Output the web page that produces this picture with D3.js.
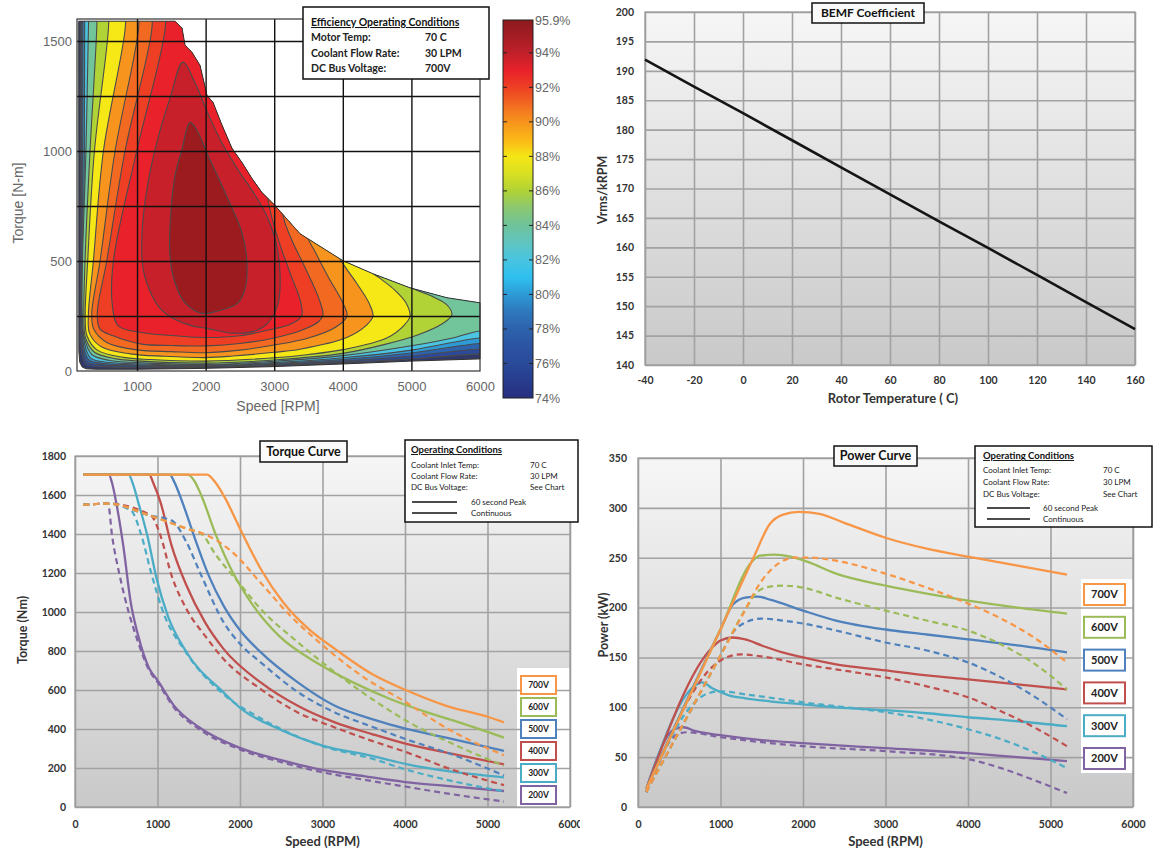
<!DOCTYPE html>
<html>
<head>
<meta charset="utf-8">
<title>motor performance charts</title>
<style>
  body { margin: 0; background: #fff; }
  svg { display: block; }
</style>
</head>
<body>
<svg id="chart" width="1157" height="852"></svg>
<script src="https://cdn.jsdelivr.net/npm/d3@7"></script>
<script>

// ---------- efficiency map: regions where efficiency >= level, [speed rpm, torque Nm] ----------
// (points above 1600 Nm or beyond 6000 rpm lie outside the plot and only close the shapes)
var effEnvelope = [[150,1590],[1554,1590],[1656,1559],[1700,1481],[1800,1449],[1918,1390],[2020,1253],[2108,1221],
  [2240,1117],[2385,1012],[2530,948],[2676,875],[2822,811],[3011,752],[3376,624],[4003,501],[4440,442],[4980,378],
  [5519,333],[6000,310],[6000,55],[5000,45],[4000,32],[3000,20],[2000,12],[1000,8],[400,8],[260,10],[200,18],[165,40],[152,90]]
var eff76 = [[180,2600],[180,1700],[180,1000],[182,300],[195,80],[260,30],[500,20],[1000,15],[2000,17],[3000,25],[4000,38],[5000,55],[6000,78],[6500,78],[6500,1700],[6500,2600]]
var eff78 = [[195,2600],[195,1700],[195,1000],[198,300],[210,100],[280,40],[500,28],[1000,22],[2000,21],[3000,30],[4000,45],[5000,68],[6000,100],[6500,100],[6500,1700],[6500,2600]]
var eff80 = [[212,2600],[212,1700],[210,1000],[210,300],[222,110],[300,50],[500,35],[1000,27],[2000,24],[3000,34],[4000,52],[5000,82],[6000,125],[6500,125],[6500,1700],[6500,2600]]
var eff82 = [[238,2600],[238,1700],[232,1000],[220,400],[232,130],[320,60],[500,42],[1000,32],[2000,27],[3000,38],[4000,60],[5000,95],[6000,150],[6500,150],[6500,1700],[6500,2600]]
var eff84 = [[300,2600],[300,1700],[291,1550],[255,1000],[205,500],[202,250],[232,150],[340,75],[600,48],[1000,38],[2000,30],[3000,44],[4000,70],[5000,115],[5600,150],[6000,182],[6500,182],[6500,1700],[6500,2600]]
var eff86 = [[420,2600],[420,1700],[412,1550],[315,1000],[242,500],[225,250],[250,150],[380,85],[700,55],[1000,46],[2000,36],[3000,50],[4000,80],[4600,120],[5100,165],[5450,215],[5590,255],[5520,300],[5300,340],[5000,380],[4900,420],[4800,1700],[4800,2600]]
var eff88 = [[590,2600],[590,1700],[582,1550],[379,1000],[281,500],[245,250],[270,160],[420,95],[800,62],[1200,52],[2000,45],[3000,60],[3500,75],[4000,97],[4640,150],[4900,210],[4980,250],[4920,310],[4750,370],[4550,420],[4400,460],[4300,1700],[4300,2600]]
var eff90 = [[840,2600],[840,1700],[825,1550],[510,1000],[364,500],[290,250],[310,170],[480,110],[900,78],[1400,67],[2000,61],[2400,68],[3000,85],[3376,99],[4057,152],[4350,210],[4440,250],[4380,310],[4200,400],[4020,480],[3950,520],[3900,1700],[3900,2600]]
var eff91 = [[1030,2600],[1030,1700],[1020,1550],[680,1000],[461,500],[340,260],[370,190],[560,130],[1000,96],[1500,88],[2000,83],[2500,95],[3000,118],[3500,150],[3900,200],[4060,250],[4000,310],[3800,420],[3600,540],[3450,640],[3400,1700],[3400,2600]]
var eff92 = [[1220,2600],[1220,1700],[1214,1550],[825,1000],[558,500],[420,260],[460,190],[650,160],[1068,122],[1500,116],[2035,114],[2500,125],[3000,150],[3400,185],[3650,225],[3710,255],[3650,330],[3450,470],[3250,600],[3120,720],[3100,1700],[3100,2600]]
var eff93 = [[1410,2600],[1410,1700],[1408,1550],[995,1000],[655,500],[640,300],[727,205],[1068,175],[1554,160],[2035,152],[2500,160],[2900,185],[3250,215],[3400,250],[3380,320],[3250,430],[3100,560],[2980,680],[2900,800],[2800,1700],[2800,2600]]
var eff94 = [[1670,1404],[1481,1240],[1290,1040],[1146,830],[1073,629],[1088,465],[1219,342],[1350,280],[1550,235],[1800,205],[2000,195],[2400,172],[2700,180],[2895,214],[3055,305],[3085,442],
  [3030,580],[2900,700],[2720,800],[2472,915],[2240,1035],[2035,1170],[1845,1310]]
var eff95 = [[1773,1130],[1650,1000],[1554,889],[1490,707],[1481,524],[1554,401],[1700,310],[1948,262],[2181,273],[2472,310],[2575,374],[2603,492],[2530,629],[2283,811],[2035,980],[1880,1090]]
var effRegions = [effEnvelope, eff76, eff78, eff80, eff82, eff84, eff86, eff88, eff90, eff91, eff92, eff93, eff94, eff95]
var effLevels = [74, 76, 78, 80, 82, 84, 86, 88, 90, 91, 92, 93, 94, 95]
var effXTicks = [1000, 2000, 3000, 4000, 5000, 6000]
var effYTicks = [0, 500, 1000, 1500]
var effGridX = [1000, 2000, 3000, 4000, 5000]
var effGridY = [250, 500, 750, 1000, 1250, 1500]
var cbTicks = [74, 76, 78, 80, 82, 84, 86, 88, 90, 92, 94, 95.9]
var cbMarks = [76, 78, 80, 82, 84, 86, 88, 90, 92, 94]
var cbStopValues = [74, 75, 76, 77, 78, 79, 80, 81, 82, 83, 84, 85, 86, 87, 88, 89, 90, 91, 92, 93, 94, 95.9]
var effConditions = [['Motor Temp:', '70 C'], ['Coolant Flow Rate:', '30 LPM'], ['DC Bus Voltage:', '700V']]

// ---------- BEMF coefficient ----------
var rotorTemp = [-40, -20, 0, 20, 40, 60, 80, 100, 120, 140, 160]
var bemf = [191.9, 187.3, 182.8, 178.2, 173.6, 169.0, 164.4, 159.9, 155.3, 150.7, 146.1]
var bemfYTicks = [140, 145, 150, 155, 160, 165, 170, 175, 180, 185, 190, 195, 200]

// ---------- torque / power curves ----------
var voltages = ['700V', '600V', '500V', '400V', '300V', '200V']
var speedTicks = [0, 1000, 2000, 3000, 4000, 5000, 6000]
var torqueTicks = [0, 200, 400, 600, 800, 1000, 1200, 1400, 1600, 1800]
var powerTicks = [0, 50, 100, 150, 200, 250, 300, 350]
var opConditions = [['Coolant Inlet Temp:', '70 C'], ['Coolant Flow Rate:', '30 LPM'], ['DC Bus Voltage:', 'See Chart']]
var lineKeys = ['60 second Peak', 'Continuous']

var tqPeak700 = [[100,1705],[1600,1705],[1700,1665],[1800,1599],[2020,1410],[2250,1222],[2520,1051],[2830,913],[3150,811],[3600,682],[4030,596],[4500,519],[5030,459],[5200,434]]
var tqPeak600 = [[100,1705],[1370,1705],[1450,1670],[1530,1599],[1710,1393],[1890,1222],[2160,1033],[2470,879],[2920,742],[3370,639],[3820,554],[4270,485],[4720,425],[5200,356]]
var tqPeak500 = [[100,1705],[1150,1705],[1200,1670],[1300,1565],[1440,1393],[1620,1188],[1800,1033],[2020,896],[2250,794],[2700,639],[3150,519],[3600,451],[4030,399],[4500,356],[5200,288]]
var tqPeak400 = [[100,1705],[900,1705],[950,1660],[1035,1565],[1170,1342],[1350,1137],[1575,948],[1800,811],[2250,639],[2700,519],[3150,434],[3600,374],[4030,322],[4500,279],[5200,219]]
var tqPeak300 = [[100,1705],[650,1705],[700,1660],[765,1565],[876,1393],[990,1170],[1125,980],[1350,795],[1800,588],[2020,502],[2470,400],[3000,315],[3600,262],[4030,219],[4500,185],[5200,152]]
var tqPeak200 = [[100,1705],[410,1705],[450,1660],[500,1560],[585,1340],[675,1050],[765,880],[900,710],[1000,650],[1200,520],[1500,410],[2000,303],[2500,240],[3000,190],[3500,158],[4000,128],[4500,108],[5200,82]]

var tqCont700 = [[100,1550],[400,1556],[900,1496],[1350,1428],[1620,1390],[1900,1310],[2250,1150],[2600,985],[3000,830],[3500,665],[4000,540],[4500,405],[5200,265]]
var tqCont600 = [[100,1550],[400,1556],[900,1496],[1350,1428],[1530,1402],[1710,1291],[1980,1153],[2250,1016],[2700,845],[3150,691],[3600,554],[4050,434],[4500,339],[5200,211]]
var tqCont500 = [[100,1550],[400,1556],[900,1496],[1170,1470],[1350,1359],[1530,1188],[1800,948],[2020,828],[2250,742],[2700,590],[3150,485],[3600,412],[4030,345],[4500,280],[5200,162]]
var tqCont400 = [[100,1550],[400,1556],[920,1495],[1035,1393],[1170,1188],[1350,1016],[1575,879],[1800,759],[2250,605],[2700,485],[3150,408],[3600,339],[4030,279],[4500,202],[5200,112]]
var tqCont300 = [[100,1550],[400,1556],[680,1520],[800,1400],[930,1190],[1060,1010],[1350,790],[1800,578],[2250,455],[3000,312],[3600,248],[4030,190],[4500,140],[5200,80]]
var tqCont200 = [[100,1550],[400,1556],[450,1390],[540,1190],[650,1000],[765,845],[900,700],[1000,640],[1200,510],[1500,400],[2000,295],[2500,230],[3000,178],[3500,140],[4000,105],[4500,70],[5200,28]]

var pwPeak700 = [[100,18],[500,89],[1000,178],[1400,250],[1600,284],[1750,293],[1950,296],[2200,294],[2500,285],[3000,270],[3500,259],[4000,251],[4600,242],[5200,233]]
var pwPeak600 = [[100,18],[1000,178],[1380,246],[1480,252],[1650,253],[1850,251],[2050,246],[2400,234],[3000,222],[3500,214],[4000,207],[4600,200],[5200,194]]
var pwPeak500 = [[100,18],[1000,178],[1150,203],[1300,210],[1450,211],[1600,208],[2000,197],[2400,187],[3000,178],[3500,173],[4000,168],[4600,162],[5200,155]]
var pwPeak400 = [[100,18],[900,160],[1000,167],[1150,170],[1300,168],[1500,162],[1750,155],[2000,150],[2400,143],[3000,137],[3500,132],[4000,128],[4600,123],[5200,118]]
var pwPeak300 = [[100,18],[680,121],[780,125],[900,119],[1100,112],[1300,109],[1600,106],[2000,103],[2400,100],[3000,97],[3500,94],[4000,90],[4600,86],[5200,81]]
var pwPeak200 = [[100,18],[440,78],[550,80],[700,76],[1000,72],[1500,67],[2000,64],[3000,59],[4000,54],[4600,50],[5200,46]]

var pwCont700 = [[100,15],[500,76],[1000,152],[1250,190],[1500,227],[1700,244],[1900,250],[2100,250],[2400,247],[3000,234],[3500,220],[4000,204],[4400,189],[4800,170],[5200,145]]
var pwCont600 = [[100,15],[1000,152],[1300,198],[1450,216],[1600,221],[1750,222],[2000,220],[2400,210],[3000,197],[3500,187],[4000,177],[4400,163],[4800,144],[5200,118]]
var pwCont500 = [[100,15],[1000,152],[1150,175],[1300,185],[1500,189],[1750,187],[2000,184],[2400,177],[3000,165],[3500,157],[4000,145],[4400,130],[4800,111],[5200,88]]
var pwCont400 = [[100,15],[950,144],[1100,151],[1250,153],[1500,151],[2000,143],[2400,138],[3000,130],[3500,121],[4000,110],[4400,96],[4800,80],[5200,61]]
var pwCont300 = [[100,15],[700,106],[850,114],[1000,116],[1300,113],[2000,105],[3000,95],[3500,88],[4000,78],[4400,68],[4800,55],[5200,39]]
var pwCont200 = [[100,15],[480,73],[600,75],[1000,70],[1500,65],[2000,61],[3000,56],[4000,48],[4400,39],[4800,27],[5200,14]]

var torquePeak = [tqPeak700, tqPeak600, tqPeak500, tqPeak400, tqPeak300, tqPeak200]
var torqueCont = [tqCont700, tqCont600, tqCont500, tqCont400, tqCont300, tqCont200]
var powerPeak = [pwPeak700, pwPeak600, pwPeak500, pwPeak400, pwPeak300, pwPeak200]
var powerCont = [pwCont700, pwCont600, pwCont500, pwCont400, pwCont300, pwCont200]

// ---------- styles ----------
var bandColors = ['#30386a', '#2b4a9b', '#2e63ad', '#2e9bd7', '#4ac4e0', '#72c59b', '#b2d335', '#f6e817',
  '#f7941d', '#f26a21', '#ee3f24', '#e8212a', '#c7202a', '#9b1b1f']
var cbStopColors = ['#262f7f', '#283c8e', '#2a4a9a', '#2c54a2', '#2d62ac', '#2e78bd', '#2d9ad6', '#2ec0f0',
  '#48c4e0', '#60c5c0', '#6fc39b', '#8ac872', '#b0d235', '#d9e022', '#f5e616', '#fbb616', '#f7941d',
  '#f26a21', '#ee3f24', '#e8212a', '#c0202a', '#8b1a1e']
var voltColors = ['#f79646', '#9bbb59', '#4f81bd', '#c0504d', '#4bacc6', '#8064a2']
var excelFont = 'Lato, "Open Sans", sans-serif'
var helvFont = '"Liberation Sans", Arial, sans-serif'

var svg = d3.select('#chart')
var defs = svg.append('defs')

var bg = defs.append('linearGradient').attr('id', 'plotBg')
    .attr('x1', 0).attr('y1', 0).attr('x2', 0).attr('y2', 1)
bg.append('stop').attr('offset', 0).attr('stop-color', '#f6f6f6')
bg.append('stop').attr('offset', 1).attr('stop-color', '#c9c9c9')

// style the tick labels an axis call produced
function styleAxis(a, font, size, weight, color) {
    a.select('.domain').remove()
    a.attr('font-family', null).attr('font-size', null)
    a.selectAll('text')
        .attr('font-family', font).attr('font-size', size)
        .attr('font-weight', weight).attr('fill', color)
    return a
}

function grid(g, x, y, xs, ys, color, width) {
    var x0 = x.range()[0], x1 = x.range()[1]
    var y0 = y.range()[0], y1 = y.range()[1]
    g.append('g').attr('transform', 'translate(0,' + y0 + ')')
        .call(d3.axisBottom(x).tickValues(xs).tickSize(-(y0 - y1)).tickFormat(''))
        .call(function(a){ a.select('.domain').remove() })
        .selectAll('line').attr('stroke', color).attr('stroke-width', width)
    g.append('g').attr('transform', 'translate(' + x0 + ',0)')
        .call(d3.axisLeft(y).tickValues(ys).tickSize(-(x1 - x0)).tickFormat(''))
        .call(function(a){ a.select('.domain').remove() })
        .selectAll('line').attr('stroke', color).attr('stroke-width', width)
}

function titleBox(g, x, y, w, h, label, size) {
    g.append('rect').attr('x', x).attr('y', y).attr('width', w).attr('height', h)
        .attr('fill', '#fafafa').attr('stroke', '#111').attr('stroke-width', 1.5)
    g.append('text').attr('x', x + w / 2).attr('y', y + h / 2).attr('dy', '0.35em')
        .attr('text-anchor', 'middle').attr('font-family', excelFont)
        .attr('font-weight', 700).attr('font-size', size).attr('fill', '#111').text(label)
}

// Operating conditions box
function condBox(g, x, y, w, h, o) {
    g.append('rect').attr('x', x).attr('y', y).attr('width', w).attr('height', h)
        .attr('fill', '#fff').attr('stroke', '#111').attr('stroke-width', 1.5)
    g.append('text').attr('x', x + o.pad).attr('y', y + o.titleY)
        .attr('font-family', excelFont).attr('font-weight', 700).attr('font-size', o.titleSize)
        .attr('text-decoration', 'underline').attr('fill', '#111').text(o.title)
    o.rows.forEach(function(r, i){
        var ty = y + o.rowY + i * o.rowStep
        g.append('text').attr('x', x + o.pad).attr('y', ty)
            .attr('font-family', excelFont).attr('font-weight', o.rowWeight).attr('font-size', o.rowSize)
            .attr('fill', '#222').text(r[0])
        g.append('text').attr('x', x + o.valX).attr('y', ty)
            .attr('font-family', excelFont).attr('font-weight', o.rowWeight).attr('font-size', o.rowSize)
            .attr('fill', '#222').text(r[1])
    })
    if (o.keys) {
        o.keys.forEach(function(k, i){
            var ly = y + o.keyY + i * o.keyStep
            g.append('line').attr('x1', x + o.lineX0).attr('x2', x + o.lineX1)
                .attr('y1', ly).attr('y2', ly).attr('stroke', '#111').attr('stroke-width', 1.4)
            g.append('text').attr('x', x + o.keyTextX).attr('y', ly + 3)
                .attr('font-family', excelFont).attr('font-size', o.rowSize).attr('fill', '#222').text(k)
        })
    }
}

// ================= efficiency map =================
var ex = d3.scaleLinear().domain([125, 6000]).range([77, 480])
var ey = d3.scaleLinear().domain([0, 1600]).range([371, 19])
var effPoly = d3.line().x(function(d){ return ex(d[0]) }).y(function(d){ return ey(d[1]) })
var effSmooth = d3.line().x(function(d){ return ex(d[0]) }).y(function(d){ return ey(d[1]) })
    .curve(d3.curveCatmullRomClosed.alpha(0.5))

defs.append('clipPath').attr('id', 'envClip')
    .append('path').attr('d', effPoly(effEnvelope) + 'Z')

var effG = svg.append('g')
var bands = effG.append('g').attr('clip-path', 'url(#envClip)')
bands.selectAll('path')
    .data(effRegions)
    .enter().append('path')
    .attr('d', function(d, i){ return i === 0 ? effPoly(d) + 'Z' : effSmooth(d) })
    .attr('fill', function(d, i){ return bandColors[i] })
    .attr('stroke', '#4a4a4a')
    .attr('stroke-width', 1.1)
    .attr('data-level', function(d, i){ return effLevels[i] })

effG.append('path').attr('d', effPoly(effEnvelope) + 'Z')
    .attr('fill', 'none').attr('stroke', '#333').attr('stroke-width', 1)

grid(effG, ex, ey, effGridX, effGridY, '#111', 1.4)
effG.append('rect').attr('x', 77).attr('y', 19).attr('width', 403).attr('height', 352)
    .attr('fill', 'none').attr('stroke', '#333').attr('stroke-width', 1.2)

styleAxis(effG.append('g').attr('transform', 'translate(0,371)')
    .call(d3.axisBottom(ex).tickValues(effXTicks).tickSize(0).tickPadding(11).tickFormat(d3.format('d'))),
    helvFont, 13, 400, '#666')
styleAxis(effG.append('g').attr('transform', 'translate(77,0)')
    .call(d3.axisLeft(ey).tickValues(effYTicks).tickSize(0).tickPadding(5).tickFormat(d3.format('d'))),
    helvFont, 13, 400, '#666')

effG.append('text').attr('x', 278).attr('y', 411).attr('text-anchor', 'middle')
    .attr('font-family', helvFont).attr('font-size', 14).attr('fill', '#666').text('Speed [RPM]')
effG.append('text').attr('transform', 'translate(23,203) rotate(-90)').attr('text-anchor', 'middle')
    .attr('font-family', helvFont).attr('font-size', 14).attr('fill', '#666').text('Torque [N-m]')

condBox(effG, 303, 7, 186, 72, {
    pad: 8, title: 'Efficiency Operating Conditions', titleY: 19, titleSize: 10.5,
    rows: effConditions, rowY: 34, rowStep: 15.5, rowSize: 10.5, rowWeight: 700, valX: 122
})

// colorbar
var cbY = d3.scaleLinear().domain([74, 95.9]).range([398, 20])
var cbGrad = defs.append('linearGradient').attr('id', 'cbGrad')
    .attr('x1', 0).attr('y1', 1).attr('x2', 0).attr('y2', 0)
cbGrad.selectAll('stop').data(cbStopValues).enter().append('stop')
    .attr('offset', function(d){ return (d - 74) / (95.9 - 74) })
    .attr('stop-color', function(d, i){ return cbStopColors[i] })

effG.append('rect').attr('x', 503).attr('y', 20).attr('width', 30).attr('height', 378)
    .attr('fill', 'url(#cbGrad)').attr('stroke', '#222').attr('stroke-width', 1)
effG.selectAll('.cbmark').data(cbMarks).enter().append('path')
    .attr('d', function(d){ var y = cbY(d); return 'M503,' + y + 'h4M533,' + y + 'h-4' })
    .attr('stroke', '#222').attr('stroke-width', 1)
styleAxis(effG.append('g').attr('transform', 'translate(533,0)')
    .call(d3.axisRight(cbY).tickValues(cbTicks).tickSize(0).tickPadding(2)
    .tickFormat(function(d){ return d + '%' })), helvFont, 12.5, 400, '#666')

// ================= BEMF coefficient =================
var bx = d3.scaleLinear().domain([-40, 160]).range([645, 1135])
var by = d3.scaleLinear().domain([140, 200]).range([365, 12])
var bemfG = svg.append('g')
bemfG.append('rect').attr('x', 645).attr('y', 12).attr('width', 490).attr('height', 353).attr('fill', 'url(#plotBg)')
grid(bemfG, bx, by, rotorTemp, bemfYTicks, '#a2a2a2', 1.6)
bemfG.append('rect').attr('x', 645).attr('y', 12).attr('width', 490).attr('height', 353)
    .attr('fill', 'none').attr('stroke', '#9a9a9a').attr('stroke-width', 1.2)
bemfG.append('path')
    .datum(rotorTemp.map(function(t, i){ return [t, bemf[i]] }))
    .attr('d', d3.line().x(function(d){ return bx(d[0]) }).y(function(d){ return by(d[1]) }))
    .attr('fill', 'none').attr('stroke', '#151515').attr('stroke-width', 2.6)

styleAxis(bemfG.append('g').attr('transform', 'translate(0,365)')
    .call(d3.axisBottom(bx).tickValues(rotorTemp).tickSize(0).tickPadding(12).tickFormat(function(d){ return String(d) })),
    excelFont, 10.5, 700, '#333')
styleAxis(bemfG.append('g').attr('transform', 'translate(645,0)')
    .call(d3.axisLeft(by).tickValues(bemfYTicks).tickSize(0).tickPadding(11).tickFormat(function(d){ return String(d) })),
    excelFont, 10.5, 700, '#333')
bemfG.append('text').attr('x', 893).attr('y', 403).attr('text-anchor', 'middle')
    .attr('font-family', excelFont).attr('font-weight', 700).attr('font-size', 13).attr('fill', '#333')
    .text('Rotor Temperature (  C)')
bemfG.append('text').attr('transform', 'translate(607,190) rotate(-90)').attr('text-anchor', 'middle')
    .attr('font-family', excelFont).attr('font-weight', 700).attr('font-size', 12.5).attr('fill', '#333')
    .text('Vrms/kRPM')
titleBox(bemfG, 812, 3, 112, 20, 'BEMF Coefficient', 12)

// ================= torque & power curves =================
function curvePanel(o) {
    var g = svg.append('g').attr('clip-path', o.clip ? 'url(#' + o.clip + ')' : null)
    var x = o.x, y = o.y
    var x0 = x.range()[0], x1 = x.range()[1], y0 = y.range()[0], y1 = y.range()[1]
    g.append('rect').attr('x', x0).attr('y', y1).attr('width', x1 - x0).attr('height', y0 - y1)
        .attr('fill', 'url(#plotBg)')
    g.append('rect').attr('x', o.patch[0]).attr('y', o.patch[1]).attr('width', o.patch[2]).attr('height', o.patch[3])
        .attr('fill', '#fff')
    grid(g, x, y, speedTicks, o.yTicks, '#a2a2a2', 1.6)
    g.append('rect').attr('x', x0).attr('y', y1).attr('width', x1 - x0).attr('height', y0 - y1)
        .attr('fill', 'none').attr('stroke', '#9a9a9a').attr('stroke-width', 1.2)

    var line = d3.line().x(function(d){ return x(d[0]) }).y(function(d){ return y(d[1]) })
        .curve(d3.curveMonotoneX)
    for (var i = voltages.length - 1; i >= 0; i--) {
        g.append('path').datum(o.cont[i]).attr('d', line)
            .attr('fill', 'none').attr('stroke', voltColors[i]).attr('stroke-width', 2.2)
            .attr('stroke-dasharray', '6,4')
        g.append('path').datum(o.peak[i]).attr('d', line)
            .attr('fill', 'none').attr('stroke', voltColors[i]).attr('stroke-width', 2.3)
    }

    styleAxis(g.append('g').attr('transform', 'translate(0,' + y0 + ')')
        .call(d3.axisBottom(x).tickValues(speedTicks).tickSize(0).tickPadding(14).tickFormat(d3.format('d'))),
        excelFont, 10.5, 700, '#333')
    styleAxis(g.append('g').attr('transform', 'translate(' + x0 + ',0)')
        .call(d3.axisLeft(y).tickValues(o.yTicks).tickSize(0).tickPadding(o.yPad).tickFormat(d3.format('d'))),
        excelFont, 10.5, 700, '#333')
    g.append('text').attr('x', (x0 + x1) / 2).attr('y', 846).attr('text-anchor', 'middle')
        .attr('font-family', excelFont).attr('font-weight', 700).attr('font-size', 13).attr('fill', '#333')
        .text('Speed (RPM)')
    g.append('text').attr('transform', 'translate(' + o.yLabelX + ',' + o.yLabelY + ') rotate(-90)')
        .attr('text-anchor', 'middle')
        .attr('font-family', excelFont).attr('font-weight', 700).attr('font-size', 12.5).attr('fill', '#333')
        .text(o.yLabel)

    // voltage tags
    voltages.forEach(function(v, i){
        var ty = o.tag.y + i * o.tag.step
        g.append('rect').attr('x', o.tag.x).attr('y', ty).attr('width', o.tag.w).attr('height', o.tag.h)
            .attr('fill', '#fff').attr('stroke', voltColors[i]).attr('stroke-width', 2)
        g.append('text').attr('x', o.tag.x + o.tag.w / 2).attr('y', ty + o.tag.h / 2).attr('dy', '0.35em')
            .attr('text-anchor', 'middle').attr('font-family', excelFont).attr('font-weight', 700)
            .attr('font-size', o.tag.size).attr('fill', '#222').text(v)
    })
    return g
}

defs.append('clipPath').attr('id', 'leftClip')
    .append('rect').attr('x', 0).attr('y', 0).attr('width', 580).attr('height', 852)

var tqG = curvePanel({
    x: d3.scaleLinear().domain([0, 6000]).range([75, 570]),
    y: d3.scaleLinear().domain([0, 1800]).range([807, 456]),
    yTicks: torqueTicks, yPad: 9, yLabel: 'Torque (Nm)', yLabelX: 27, yLabelY: 630,
    peak: torquePeak, cont: torqueCont, clip: 'leftClip',
    patch: [517, 668, 53, 139],
    tag: { x: 521, y: 676, step: 22, w: 35, h: 18, size: 8.5 }
})
titleBox(tqG, 260, 441, 87, 21, 'Torque Curve', 12.5)
condBox(tqG, 405, 440, 173, 82, {
    pad: 6, title: 'Operating Conditions', titleY: 13, titleSize: 9.5,
    rows: opConditions, rowY: 28, rowStep: 11, rowSize: 8, rowWeight: 400, valX: 125,
    keys: lineKeys, keyY: 62, keyStep: 11, lineX0: 7, lineX1: 52, keyTextX: 66
})

var pwG = curvePanel({
    x: d3.scaleLinear().domain([0, 6000]).range([638, 1133]),
    y: d3.scaleLinear().domain([0, 350]).range([807, 458]),
    yTicks: powerTicks, yPad: 11, yLabel: 'Power (kW)', yLabelX: 608, yLabelY: 625,
    peak: powerPeak, cont: powerCont, clip: null,
    patch: [1081, 579, 52, 194],
    tag: { x: 1084, y: 584, step: 32.8, w: 41, h: 21, size: 11 }
})
titleBox(pwG, 834, 446, 83, 20, 'Power Curve', 12.5)
condBox(pwG, 975, 446, 177, 81, {
    pad: 8, title: 'Operating Conditions', titleY: 13, titleSize: 9.5,
    rows: opConditions, rowY: 27, rowStep: 12, rowSize: 8, rowWeight: 400, valX: 128,
    keys: lineKeys, keyY: 62, keyStep: 11, lineX0: 12, lineX1: 55, keyTextX: 68
})

</script>
</body>
</html>
